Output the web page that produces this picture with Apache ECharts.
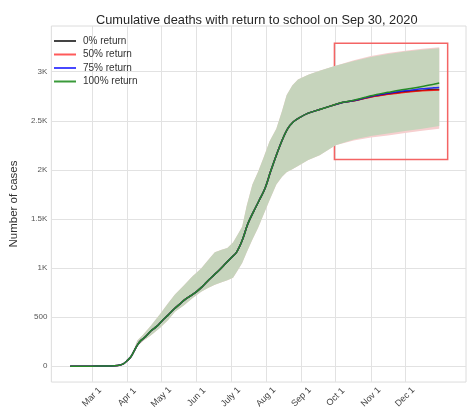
<!DOCTYPE html>
<html><head><meta charset="utf-8">
<script src="https://cdn.jsdelivr.net/npm/echarts@6/dist/echarts.min.js"></script>
<style>html,body{margin:0;padding:0;background:#fff}#c{width:467px;height:411px}</style>
</head><body><div id="c"></div>
<script>
// x values are days counted from Mar 1, 2020
const monthTickDays = [0, 31, 61, 92, 122, 153, 184, 214, 245, 275];
const monthTickLabels = ['Mar 1', 'Apr 1', 'May 1', 'Jun 1', 'July 1', 'Aug 1', 'Sep 1', 'Oct 1', 'Nov 1', 'Dec 1'];
const yTickValues = [0, 500, 1000, 1500, 2000, 2500, 3000];
const yTickLabels = ['0', '500', '1K', '1.5K', '2K', '2.5K', '3K'];

const seriesNames = ['0% return', '50% return', '75% return', '100% return'];

const lineDays = [-19,-10,0,10,20,25,28,31,34,37,40,43,47,52,57,62,67,72,77,82,87,92,97,102,107,112,117,122,127,132,137,142,147,152,157,162,167,172,177,182,190,200,210,220,230,240,250,260,270,280,290,300,305];
const ret100 = [0,0,0,1,4,12,25,55,90,150,215,260,298,360,405,465,520,580,630,680,718,760,810,870,925,980,1040,1100,1160,1280,1450,1575,1690,1810,1985,2150,2300,2420,2490,2530,2578,2615,2652,2688,2710,2740,2768,2790,2812,2830,2850,2873,2885];
const ret75  = [0,0,0,1,4,12,25,55,90,150,215,260,298,360,405,465,520,580,630,680,718,760,810,870,925,980,1040,1100,1160,1280,1450,1575,1690,1810,1985,2150,2300,2420,2490,2530,2578,2615,2652,2686,2706,2734,2760,2780,2798,2812,2826,2836,2840];
const ret50  = [0,0,0,1,4,12,25,55,90,150,215,260,298,360,405,465,520,580,630,680,718,760,810,870,925,980,1040,1100,1160,1280,1450,1575,1690,1810,1985,2150,2300,2420,2490,2530,2578,2615,2652,2686,2704,2729,2752,2770,2784,2796,2805,2812,2814];
const ret0   = [0,0,0,1,4,12,25,55,90,150,215,260,298,360,405,465,520,580,630,680,718,760,810,870,925,980,1040,1100,1160,1280,1450,1575,1690,1810,1985,2150,2300,2420,2490,2530,2578,2615,2652,2686,2705,2731,2755,2773,2788,2800,2810,2818,2820];

const bandDays  = [35,40,45,52,60,67,73,81,88,96,102,108,114,119,124,128,132,136,141,146,151,156,162,167,171,176,181,190,200,214,230,245,260,275,290,305];
const bandLower = [100,205,255,315,390,470,555,620,690,757,795,830,855,875,900,975,1050,1160,1290,1410,1550,1690,1850,1930,1975,2005,2040,2100,2150,2250,2310,2345,2370,2395,2420,2446];
const bandUpper = [112,260,320,415,530,640,730,825,910,995,1080,1160,1185,1205,1260,1340,1420,1635,1850,1980,2130,2290,2420,2600,2760,2860,2920,2970,3010,3060,3110,3150,3180,3205,3225,3240];
const redBandLower = [100,205,255,315,390,470,555,620,690,757,795,830,855,875,900,975,1050,1160,1290,1410,1550,1690,1850,1930,1975,2005,2040,2100,2150,2250,2300,2330,2350,2375,2398,2420];
const redBandUpper = [112,260,320,415,530,640,730,825,910,995,1080,1160,1185,1205,1260,1340,1420,1635,1850,1980,2130,2290,2420,2600,2760,2860,2920,2970,3010,3060,3118,3160,3190,3215,3235,3250];

const boxDays = [213, 312.4];
const boxValues = [2105, 3290];

const FONT = 'Liberation Sans, Arial, sans-serif';
const pairs = (xs, ys) => xs.map((x, i) => [x, ys[i]]);

function band(lo, hi, color) {
  return {
    type: 'custom', silent: true, z: 1,
    data: [[bandDays[0], lo[0]]],
    renderItem: (params, api) => {
      const top = bandDays.map((d, i) => api.coord([d, hi[i]]));
      const bot = bandDays.map((d, i) => api.coord([d, lo[i]])).reverse();
      return { type: 'polygon', shape: { points: top.concat(bot) }, style: { fill: color } };
    }
  };
}
const lineColors = ['#000000', '#ff0000', '#0000ff', '#268a26'];
const legendColors = ['#444444', '#ff5a5a', '#4848ff', '#3a9a3a'];
const lineData = [ret0, ret50, ret75, ret100];
const lines = seriesNames.map((n, i) => ({
  name: n, type: 'line', data: pairs(lineDays, lineData[i]), symbol: 'none', smooth: 0.3,
  lineStyle: { color: lineColors[i], width: 1.5, opacity: i === 3 ? 1 : 0.8 },
  itemStyle: { color: legendColors[i] }, z: 3
}));
lines[3].markArea = {
  silent: true,
  itemStyle: { color: 'rgba(0,0,0,0)', borderColor: '#f46464', borderWidth: 1.5 },
  data: [[{ coord: [boxDays[0], boxValues[0]] }, { coord: [boxDays[1], boxValues[1]] }]]
};

const chart = echarts.init(document.getElementById('c'), null, { renderer: 'canvas' });
chart.setOption({
  animation: false,
  backgroundColor: '#fff',
  title: {
    text: 'Cumulative deaths with return to school on Sep 30, 2020',
    left: 91, top: 9,
    textStyle: { fontFamily: FONT, fontSize: 12.8, fontWeight: 'normal', color: '#262626' }
  },
  legend: {
    data: seriesNames, orient: 'vertical', left: 49, top: 31,
    icon: 'rect', itemWidth: 22, itemHeight: 2, itemGap: 3.5,
    textStyle: { fontFamily: FONT, fontSize: 10, color: '#333', padding: [0, 0, 0, 2], lineHeight: 10 }
  },
  grid: { left: 45, right: 1, top: 26, bottom: 27, show: true, borderColor: '#dcdcdc', borderWidth: 1 },
  xAxis: {
    type: 'value', min: -35.5, max: 328.5,
    axisLine: { show: false },
    axisTick: { show: false, customValues: monthTickDays },
    splitLine: { show: true, lineStyle: { color: '#e2e2e2', width: 1 } },
    axisLabel: {
      customValues: monthTickDays, rotate: 45, align: 'center', verticalAlign: 'middle', margin: 15,
      fontFamily: FONT, fontSize: 9, color: '#404040',
      formatter: v => { const i = monthTickDays.indexOf(v); return i >= 0 ? monthTickLabels[i] : ''; }
    }
  },
  yAxis: {
    type: 'value', min: -162, max: 3466,
    name: 'Number of cases', nameLocation: 'middle', nameGap: 14,
    nameTextStyle: { fontFamily: FONT, fontSize: 11.5, color: '#333' },
    axisLine: { show: false },
    axisTick: { show: false, customValues: yTickValues },
    splitLine: { show: true, lineStyle: { color: '#e2e2e2', width: 1 } },
    axisLabel: {
      customValues: yTickValues, margin: 4,
      fontFamily: FONT, fontSize: 8, color: '#555',
      formatter: v => { const i = yTickValues.indexOf(v); return i >= 0 ? yTickLabels[i] : ''; }
    }
  },
  series: [
    band(redBandLower, redBandUpper, '#f6cfcf'),
    band(bandLower, bandUpper, '#c6d4bc'),
    ...lines
  ]
});
</script>
</body></html>
